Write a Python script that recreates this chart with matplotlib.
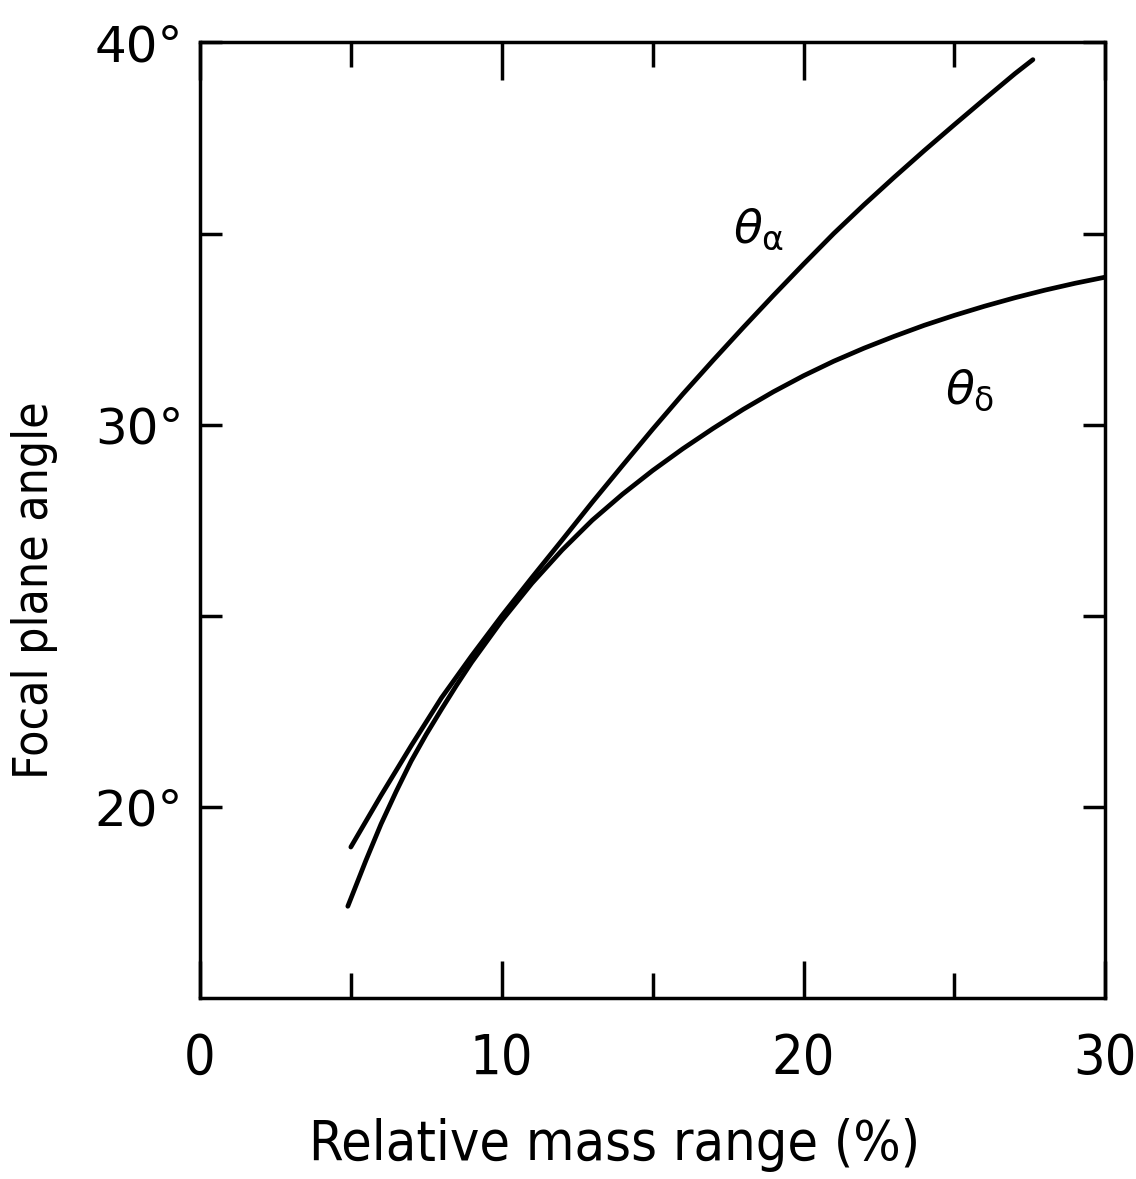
import numpy as np
import matplotlib
matplotlib.use("Agg")
import matplotlib.pyplot as plt

# values
mass_alpha = [5.0, 6.0, 7.0, 8.0, 9.0, 10.0, 11.0, 12.0, 13.0, 14.0, 15.0, 16.0,
              17.0, 18.0, 19.0, 20.0, 21.0, 22.0, 23.0, 24.0, 25.0, 26.0, 27.0, 27.6]
theta_alpha = [18.95, 20.3, 21.6, 22.85, 23.95, 25.0, 26.0, 26.98, 27.97, 28.93, 29.88, 30.8,
               31.68, 32.54, 33.38, 34.2, 35.0, 35.75, 36.47, 37.17, 37.85, 38.52, 39.18, 39.55]

mass_delta = [4.9, 5.5, 6.0, 6.5, 7.0, 7.5, 8.0, 8.5, 9.0, 10.0, 11.0, 12.0, 13.0, 14.0, 15.0, 16.0,
              17.0, 18.0, 19.0, 20.0, 21.0, 22.0, 23.0, 24.0, 25.0, 26.0, 27.0, 28.0, 29.0, 30.0]
theta_delta = [17.4, 18.6, 19.55, 20.4, 21.2, 21.9, 22.55, 23.18, 23.78, 24.87, 25.85, 26.72, 27.5,
               28.18, 28.8, 29.37, 29.9, 30.4, 30.86, 31.28, 31.66, 32.0, 32.31, 32.6, 32.86,
               33.1, 33.32, 33.52, 33.7, 33.86]

x_major = [0, 10, 20, 30]
x_minor = [5, 15, 25]
y_major = [20, 30, 40]
y_minor = [25, 35]
y_labels = ['20°', '30°', '40°']

fig = plt.figure(figsize=(11.36, 11.79), dpi=100)
ax = fig.add_axes([0.176, 0.1535, 0.797, 0.8105])

ax.plot(mass_alpha, theta_alpha, color='black', lw=3.4, solid_capstyle='round',
        solid_joinstyle='round')
ax.plot(mass_delta, theta_delta, color='black', lw=3.4, solid_capstyle='round',
        solid_joinstyle='round')

ax.set_xlim(0, 30)
ax.set_ylim(15, 40)

for s in ax.spines.values():
    s.set_linewidth(2.5)

ax.set_xticks(x_major)
ax.set_xticks(x_minor, minor=True)
ax.set_xticklabels([str(v) for v in x_major], fontstretch='condensed')
ax.set_yticks(y_major)
ax.set_yticks(y_minor, minor=True)
ax.set_yticklabels(y_labels)

ax.tick_params(axis='x', which='major', direction='in', length=27, width=2.5,
               top=True, bottom=True, labelsize=40, pad=24)
ax.tick_params(axis='x', which='minor', direction='in', length=18, width=2.5,
               top=True, bottom=True)
ax.tick_params(axis='y', which='both', direction='in', length=16, width=2.5,
               left=True, right=True, labelsize=36, pad=12)

ax.set_xlabel('Relative mass range (%)', fontsize=40, fontstretch='condensed')
ax.xaxis.set_label_coords(0.458, -0.126)
ax.set_ylabel('Focal plane angle', fontsize=34.5, fontstretch='condensed')
ax.yaxis.set_label_coords(-0.157, 0.427)

ax.text(17.67, 34.77, r'$\theta_{\mathrm{\alpha}}$', fontsize=34, ha='left', va='baseline')
ax.text(24.7, 30.56, r'$\theta_{\mathrm{\delta}}$', fontsize=34, ha='left', va='baseline')

fig.savefig('out.png', dpi=100, facecolor='white')
